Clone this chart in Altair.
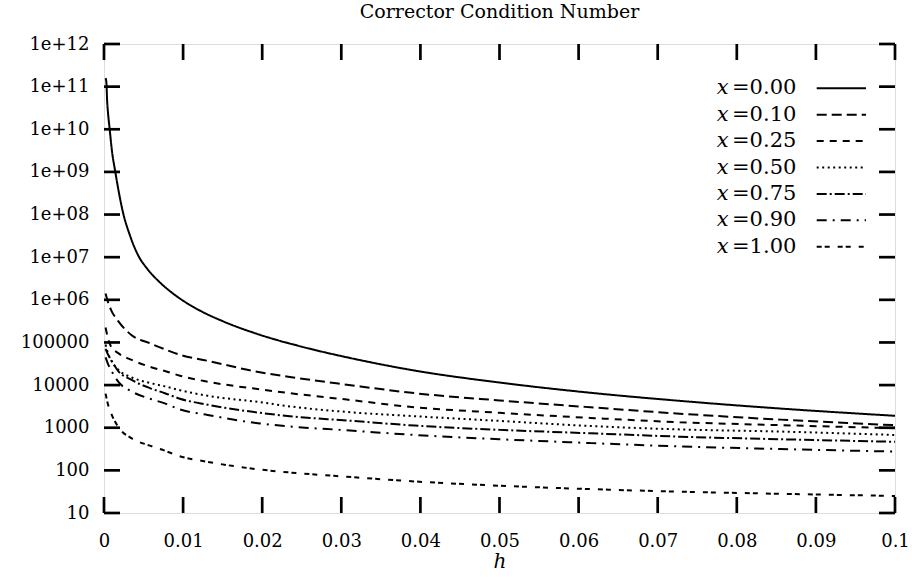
import altair as alt
import pandas as pd

# ---------------- data ----------------
series_names = ["x=0.00", "x=0.10", "x=0.25", "x=0.50", "x=0.75", "x=0.90", "x=1.00"]
legend_numbers = ["=0.00", "=0.10", "=0.25", "=0.50", "=0.75", "=0.90", "=1.00"]

# step size h for the x=0.00 curve
h_solid = [0.0002, 0.0003, 0.0004, 0.0005, 0.00072, 0.001, 0.00143, 0.0019, 0.0024,
           0.0033, 0.0043, 0.0055, 0.007, 0.0085, 0.0096, 0.012, 0.015, 0.0197,
           0.025, 0.031, 0.0393, 0.05, 0.0615, 0.0728, 0.0855, 0.1]
# log10 of the condition number, x=0.00
log_x000 = [11.2, 11.1, 10.65, 10.4, 10.0, 9.5, 9.0, 8.5, 8.05,
            7.5, 7.05, 6.72, 6.42, 6.18, 6.03, 5.76, 5.5, 5.18,
            4.9, 4.64, 4.34, 4.06, 3.82, 3.63, 3.45, 3.28]

# step size h for the other curves
h_other = [0.0002, 0.0005, 0.0009, 0.0018, 0.0035, 0.0058, 0.0077, 0.0096, 0.0131,
           0.0197, 0.0235, 0.0307, 0.0393, 0.05, 0.0615, 0.0728, 0.0855, 0.1]
log_x010 = [6.15, 5.95, 5.76, 5.50, 5.17, 4.98, 4.84, 4.71, 4.57,
            4.30, 4.19, 4.01, 3.81, 3.64, 3.48, 3.33, 3.19, 3.06]
log_x025 = [5.35, 5.10, 4.90, 4.75, 4.59, 4.43, 4.33, 4.22, 4.08,
            3.90, 3.81, 3.66, 3.48, 3.35, 3.23, 3.13, 3.06, 2.99]
log_x050 = [4.95, 4.75, 4.58, 4.36, 4.18, 4.05, 3.97, 3.88, 3.75,
            3.60, 3.50, 3.37, 3.27, 3.16, 3.04, 2.96, 2.91, 2.83]
log_x075 = [4.85, 4.72, 4.59, 4.33, 4.12, 3.93, 3.81, 3.68, 3.54,
            3.35, 3.27, 3.17, 3.05, 2.95, 2.87, 2.79, 2.73, 2.67]
log_x090 = [4.65, 4.50, 4.35, 4.08, 3.85, 3.68, 3.57, 3.43, 3.30,
            3.10, 3.03, 2.94, 2.83, 2.73, 2.64, 2.56, 2.50, 2.44]
log_x100 = [3.80, 3.55, 3.34, 3.02, 2.75, 2.58, 2.46, 2.33, 2.20,
            2.02, 1.95, 1.85, 1.74, 1.64, 1.56, 1.50, 1.45, 1.40]

x_tick_values = [0.0, 0.01, 0.02, 0.03, 0.04, 0.05, 0.06, 0.07, 0.08, 0.09, 0.1]
x_tick_labels = ["0", "0.01", "0.02", "0.03", "0.04", "0.05", "0.06", "0.07", "0.08", "0.09", "0.1"]
y_tick_values = [1e1, 1e2, 1e3, 1e4, 1e5, 1e6, 1e7, 1e8, 1e9, 1e10, 1e11, 1e12]
y_tick_labels = ["10", "100", "1000", "10000", "100000", "1e+06", "1e+07", "1e+08",
                 "1e+09", "1e+10", "1e+11", "1e+12"]

# ---------------- tables ----------------
rows = []
for h, lg in zip(h_solid, log_x000):
    rows.append({"series": series_names[0], "h": h, "kappa": 10 ** lg})
for name, logs in zip(series_names[1:], [log_x010, log_x025, log_x050, log_x075, log_x090, log_x100]):
    for h, lg in zip(h_other, logs):
        rows.append({"series": name, "h": h, "kappa": 10 ** lg})
df = pd.DataFrame(rows)

legend_df = pd.DataFrame({"series": series_names, "num": legend_numbers,
                          "row": list(range(len(series_names))), "xs": ["x"] * len(series_names)})
xt = pd.DataFrame({"v": x_tick_values})
yt = pd.DataFrame({"v": y_tick_values})

# ---------------- styling ----------------
W, H = 791, 469
FONT = "DejaVu Serif"
TICK = 16
dashes = [[1, 0], [10, 5], [7, 6], [2, 3.5], [10, 3, 2, 3], [10, 6, 2, 6], [5, 3, 5, 8]]


def expr_x(values, labels):
    parts = [f"abs(datum.value-{v})<1e-9 ? '{l}'" for v, l in zip(values, labels)]
    return " : ".join(parts) + " : ''"


def expr_y(values, labels):
    parts = [f"abs(datum.value/{v}-1)<1e-6 ? '{l}'" for v, l in zip(values, labels)]
    return " : ".join(parts) + " : ''"


xscale = alt.Scale(domain=[0, 0.1], nice=False, zero=False)
yscale = alt.Scale(type="log", domain=[10, 1e12], nice=False)
dash_scale = alt.Scale(domain=series_names, range=dashes)
legend_scale = alt.Scale(domain=[0, 6], range=[44.3, 202.7], nice=False, zero=False)

x_axis = alt.Axis(values=x_tick_values, labelExpr=expr_x(x_tick_values, x_tick_labels),
                  ticks=False, tickSize=0, domain=False, grid=False, labelFlush=False,
                  labelOverlap=False, labelFont=FONT, labelFontSize=18, labelColor="black",
                  labelPadding=19, title="h", titleFont=FONT, titleFontStyle="italic",
                  titleFontWeight="normal", titleFontSize=20, titleColor="black", titlePadding=1)
y_axis = alt.Axis(values=y_tick_values, labelExpr=expr_y(y_tick_values, y_tick_labels),
                  ticks=False, tickSize=0, domain=False, grid=False, labelOverlap=False,
                  labelFont=FONT, labelFontSize=18, labelColor="black", labelPadding=15,
                  title=None)

lines = alt.Chart(df).mark_line(color="black", strokeWidth=2, interpolate="monotone", clip=True).encode(
    x=alt.X("h:Q", scale=xscale, axis=x_axis),
    y=alt.Y("kappa:Q", scale=yscale, axis=y_axis),
    strokeDash=alt.StrokeDash("series:N", scale=dash_scale, legend=None),
)

tick_style = dict(color="black", strokeWidth=2.7)
left_ticks = alt.Chart(yt).mark_rule(**tick_style).encode(
    y=alt.Y("v:Q", scale=yscale, axis=None), x=alt.value(0), x2=alt.value(TICK))
right_ticks = alt.Chart(yt).mark_rule(**tick_style).encode(
    y=alt.Y("v:Q", scale=yscale, axis=None), x=alt.value(W - TICK), x2=alt.value(W))
bottom_ticks = alt.Chart(xt).mark_rule(**tick_style).encode(
    x=alt.X("v:Q", scale=xscale, axis=x_axis), y=alt.value(H), y2=alt.value(H - TICK))
top_ticks = alt.Chart(xt).mark_rule(**tick_style).encode(
    x=alt.X("v:Q", scale=xscale, axis=x_axis), y=alt.value(0), y2=alt.value(TICK))

leg_lines = alt.Chart(legend_df).mark_rule(color="black", strokeWidth=2).encode(
    y=alt.Y("row:Q", scale=legend_scale, axis=None),
    x=alt.value(712.7), x2=alt.value(762),
    strokeDash=alt.StrokeDash("series:N", scale=dash_scale, legend=None),
)
leg_x = alt.Chart(legend_df).mark_text(align="left", baseline="middle", font=FONT, fontSize=21,
                                       fontStyle="italic", color="black").encode(
    y=alt.Y("row:Q", scale=legend_scale, axis=None), x=alt.value(612.7), text="xs:N")
leg_num = alt.Chart(legend_df).mark_text(align="left", baseline="middle", font=FONT, fontSize=21,
                                         color="black").encode(
    y=alt.Y("row:Q", scale=legend_scale, axis=None), x=alt.value(628), text="num:N")

chart = alt.layer(lines, left_ticks, right_ticks, bottom_ticks, top_ticks,
                  leg_lines, leg_x, leg_num).resolve_scale(y="independent").properties(
    width=W, height=H,
    title=alt.Title("Corrector Condition Number", font=FONT, fontSize=19, fontWeight="normal",
                    color="black", anchor="middle", offset=13),
    autosize=alt.AutoSizeParams(type="none"),
    padding={"left": 104, "top": 44, "right": 17, "bottom": 64},
).configure_view(stroke="black", strokeWidth=3).configure(background="white")

chart.save("out.html", embed_options={"renderer": "svg", "actions": False})
